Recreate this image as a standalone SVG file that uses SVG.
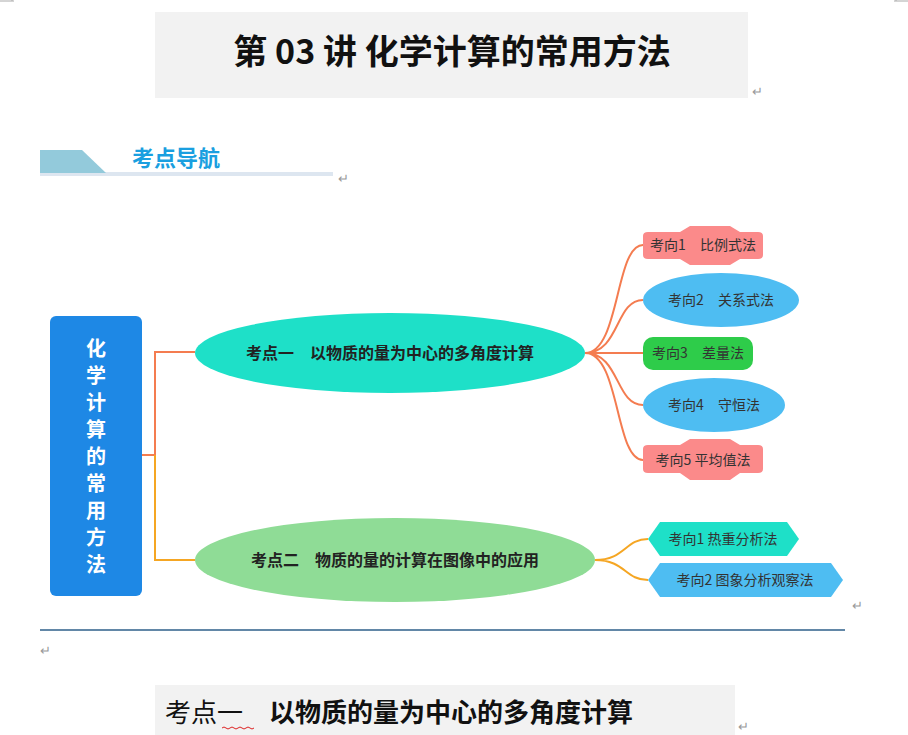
<svg xmlns="http://www.w3.org/2000/svg" width="908" height="735" viewBox="0 0 908 735">
<style>
text{font-family:"Microsoft YaHei","Noto Sans CJK SC",sans-serif;}
.s{font-size:14px;fill:#333;text-anchor:middle;}
.m{font-size:16px;font-weight:bold;fill:#222;text-anchor:middle;}
.r{font-size:13px;fill:#999;}
.c1{fill:none;stroke:#f47c50;stroke-width:2;}
.c2{fill:none;stroke:#f5a623;stroke-width:2;}
</style>
<rect width="908" height="735" fill="#fff"/>
<path d="M0 1H14M12 0V1M894 1H908M896 0V1" stroke="#aaa"/>
<g id="title">
<rect x="155" y="12" width="593" height="86" fill="#f2f2f2"/>
<text x="452" y="64" font-family="'Noto Serif CJK SC','Noto Sans CJK SC',serif" font-size="34" font-weight="bold" text-anchor="middle" fill="#111">第 03 讲  化学计算的常用方法</text>
<text x="752" y="96" class="r" font-size="20">↵</text>
</g>
<g id="nav">
<rect x="40" y="172" width="293" height="4" fill="#dde6f0"/>
<polygon points="40,150 82,150 106,173 40,173" fill="#93cadb"/>
<text x="132" y="166" font-size="22" font-weight="bold" fill="#1a9fe0">考点导航</text>
<text x="338" y="183" class="r">↵</text>
</g>
<g id="connectors">
<path class="c1" d="M142 455H155V352H195"/>
<path class="c2" d="M155 455V560H195"/>
<path class="c1" d="M585 353C620 353 615 245 643 245M585 353C620 353 615 300 643 300M585 353H643M585 353C620 353 615 405 643 405M585 353C620 353 615 460 643 460"/>
<path class="c2" d="M595 560C625 560 625 539 648 539M595 560C625 560 625 580 648 580"/>
</g>
<g id="root">
<rect x="50" y="316" width="92" height="280" rx="6" fill="#1e88e5"/>
<g font-size="20" font-weight="bold" fill="#fff" text-anchor="middle">
<text x="96" y="356">化</text><text x="96" y="383">学</text><text x="96" y="410">计</text><text x="96" y="437">算</text><text x="96" y="464">的</text><text x="96" y="491">常</text><text x="96" y="518">用</text><text x="96" y="545">方</text><text x="96" y="572">法</text>
</g>
</g>
<g id="k1"><ellipse cx="390" cy="353" rx="195" ry="40" fill="#1ee0c8"/><text x="390" y="359" class="m">考点一　以物质的量为中心的多角度计算</text></g>
<g id="k2"><ellipse cx="395" cy="560" rx="200" ry="42" fill="#8fdc96"/><text x="395" y="566" class="m">考点二　物质的量的计算在图像中的应用</text></g>
<g id="a1"><path d="M643 236Q643 232 648 232H680L690 226H730L740 232H758Q763 232 763 236V255Q763 259 758 259H740L730 265H690L680 259H648Q643 259 643 255Z" fill="#fb8a8a"/><text x="703" y="250" class="s">考向1　比例式法</text></g>
<g id="a2"><ellipse cx="721" cy="300" rx="78" ry="27" fill="#4ebdf2"/><text x="721" y="305" class="s">考向2　关系式法</text></g>
<g id="a3"><rect x="643" y="337" width="110" height="33" rx="10" fill="#2ecc4a"/><text x="698" y="358" class="s">考向3　差量法</text></g>
<g id="a4"><ellipse cx="714" cy="405" rx="71" ry="27" fill="#4ebdf2"/><text x="714" y="410" class="s">考向4　守恒法</text></g>
<g id="a5"><path d="M643 449Q643 445 648 445H680L690 439H730L740 445H758Q763 445 763 449V469Q763 473 758 473H740L730 480H690L680 473H648Q643 473 643 469Z" fill="#fb8a8a"/><text x="703" y="465" class="s">考向5  平均值法</text></g>
<g id="b1"><polygon points="648,539 660,522 787,522 799,539 787,556 660,556" fill="#1ee0c8"/><text x="723" y="544" class="s">考向1  热重分析法</text></g>
<g id="b2"><polygon points="648,580 660,563 831,563 843,580 831,597 660,597" fill="#4ebdf2"/><text x="745" y="585" class="s">考向2  图象分析观察法</text></g>
<text x="852" y="610" class="r">↵</text>
<line x1="40" y1="630" x2="845" y2="630" stroke="#2e5f8a" stroke-width="1.5"/>
<text x="40" y="655" class="r">↵</text>
<g id="h1">
<rect x="155" y="685" width="580" height="50" fill="#f2f2f2"/>
<text x="165" y="722" font-size="26" fill="#111">考点一<tspan font-weight="bold">　以物质的量为中心的多角度计算</tspan></text>
<path d="M222 728q2 -2 4 0t4 0t4 0t4 0t4 0t4 0t4 0t4 0" stroke="#d22" fill="none"/>
<text x="738" y="731" class="r">↵</text>
</g>
</svg>
